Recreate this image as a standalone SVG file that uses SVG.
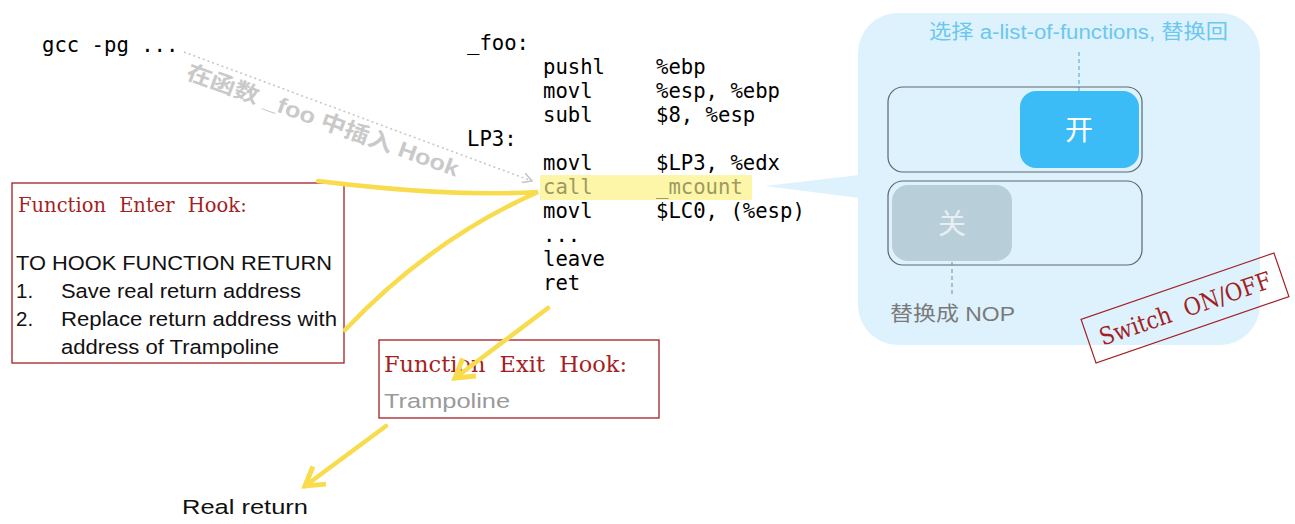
<svg xmlns="http://www.w3.org/2000/svg" width="1295" height="524" viewBox="0 0 1295 524">
<style>
.mono{font-family:"DejaVu Sans Mono","Liberation Mono",monospace;font-size:20.6px;fill:#000}
.serif{font-family:"DejaVu Serif","Liberation Serif",serif;fill:#a31f24}
.sans{font-family:"Liberation Sans",Arial,sans-serif;font-size:20.5px;fill:#111}
.cjk{font-family:"Liberation Sans","Noto Sans CJK SC",sans-serif}
.redbox{fill:none;stroke:#a31f24;stroke-width:1.3}
.yel{fill:none;stroke:#f8dc4e;stroke-width:4.5;stroke-linecap:round}
.tog{fill:none;stroke:#5b6770;stroke-width:1.2}
</style>
<defs>
<marker id="yh" markerUnits="userSpaceOnUse" markerWidth="40" markerHeight="40" viewBox="-30 -20 40 40" refX="0" refY="0" orient="auto">
<path d="M-18,-11 L0,0 L-18,11" fill="none" stroke="#f8dc4e" stroke-width="5" stroke-linejoin="miter"/>
</marker>
<marker id="gh" markerUnits="userSpaceOnUse" markerWidth="20" markerHeight="20" viewBox="-15 -10 20 20" refX="0" refY="0" orient="auto">
<path d="M-9,-5 L0,0 L-9,5" fill="none" stroke="#c4c4c4" stroke-width="1.5"/>
</marker>
</defs>

<!-- switch panel background -->
<g id="panel">
<rect x="858" y="13" width="402" height="332" rx="40" fill="#ddf2fd"/>
<polygon points="765,186 859,175 859,198" fill="#ddf2fd"/>
</g>

<g id="gcc">
<text class="mono" x="42" y="52">gcc -pg ...</text>
</g>

<g id="code">
<rect x="540" y="175" width="212" height="25" fill="#fdf6a9"/>
<text class="mono" x="467" y="50">_foo:</text>
<text class="mono" y="74"><tspan x="543">pushl</tspan><tspan x="656">%ebp</tspan></text>
<text class="mono" y="98"><tspan x="543">movl</tspan><tspan x="656">%esp, %ebp</tspan></text>
<text class="mono" y="122"><tspan x="543">subl</tspan><tspan x="656">$8, %esp</tspan></text>
<text class="mono" x="467" y="146">LP3:</text>
<text class="mono" y="170"><tspan x="543">movl</tspan><tspan x="656">$LP3, %edx</tspan></text>
<text class="mono" y="194" style="fill:#9c9a60"><tspan x="543">call</tspan><tspan x="656">_mcount</tspan></text>
<text class="mono" y="218"><tspan x="543">movl</tspan><tspan x="656">$LC0, (%esp)</tspan></text>
<text class="mono" x="543" y="242">...</text>
<text class="mono" x="543" y="266">leave</text>
<text class="mono" x="543" y="290">ret</text>
</g>

<g id="enter-hook">
<rect class="redbox" x="12" y="183" width="332" height="180"/>
<text class="serif" x="18" y="212" font-size="19.5" word-spacing="7">Function Enter Hook:</text>
<text class="sans" x="16" y="270" textLength="316" lengthAdjust="spacingAndGlyphs">TO HOOK FUNCTION RETURN</text>
<text class="sans" x="16" y="298">1.</text>
<text class="sans" x="61" y="298" textLength="240" lengthAdjust="spacingAndGlyphs">Save real return address</text>
<text class="sans" x="16" y="326">2.</text>
<text class="sans" x="61" y="326" textLength="276" lengthAdjust="spacingAndGlyphs">Replace return address with</text>
<text class="sans" x="61" y="354" textLength="218" lengthAdjust="spacingAndGlyphs">address of Trampoline</text>
</g>

<g id="exit-hook">
<rect class="redbox" x="379" y="340" width="280" height="78"/>
<text class="serif" x="384" y="372" font-size="22.5" word-spacing="7">Function Exit Hook:</text>
<text class="sans" x="384" y="408" font-size="23" style="fill:#9a9a9a" textLength="126" lengthAdjust="spacingAndGlyphs">Trampoline</text>
</g>

<g id="real-return">
<text class="sans" x="182" y="514" font-size="23" textLength="126" lengthAdjust="spacingAndGlyphs">Real return</text>
</g>

<g id="connectors">
<path d="M184,52 L532,181" fill="none" stroke="#c8c8c8" stroke-width="1.6" stroke-dasharray="2,3" marker-end="url(#gh)"/>
<path class="yel" d="M318,181 C400,191 470,196 538,192 Q430,240 345,330"/>
<path class="yel" d="M548,308 L455,378" marker-end="url(#yh)"/>
<path class="yel" d="M386,426 L305,486" marker-end="url(#yh)"/>
</g>

<g id="insert-label">
<text class="cjk" transform="translate(323,120) rotate(20)" text-anchor="middle" y="8" font-size="22" font-weight="bold" fill="#c9c9c9" textLength="288" lengthAdjust="spacingAndGlyphs">在函数 _foo 中插入 Hook</text>
</g>

<g id="switch-on">
<text class="cjk" x="929" y="39" font-size="20" fill="#6cc7ef" textLength="299" lengthAdjust="spacingAndGlyphs">选择 a-list-of-functions, 替换回</text>
<line x1="1079" y1="52" x2="1079" y2="91" stroke="#58b7e0" stroke-width="1.2" stroke-dasharray="4,3"/>
<rect class="tog" x="888" y="87" width="254" height="85" rx="15"/>
<rect x="1020" y="91" width="119" height="77" rx="16" fill="#3bbcf6"/>
<text class="cjk" x="1079" y="140" font-size="28" fill="#ffffff" text-anchor="middle">开</text>
</g>

<g id="switch-off">
<rect class="tog" x="888" y="181" width="254" height="84" rx="15"/>
<rect x="892" y="185" width="120" height="76" rx="16" fill="#b8cfda"/>
<text class="cjk" x="952" y="234" font-size="28" fill="#e8eff3" text-anchor="middle">关</text>
<line x1="952" y1="262" x2="952" y2="294" stroke="#8a9aa4" stroke-width="1.2" stroke-dasharray="4,3"/>
<text class="cjk" x="890" y="321" font-size="20" fill="#7a7a7a" textLength="125" lengthAdjust="spacingAndGlyphs">替换成 NOP</text>
</g>

<g id="stamp" transform="translate(1185,308) rotate(-19)">
<rect x="-102" y="-23" width="204" height="46" fill="none" stroke="#a31f24" stroke-width="1.2"/>
<text class="serif" x="0" y="9" font-size="24" text-anchor="middle" word-spacing="8" textLength="180" lengthAdjust="spacingAndGlyphs">Switch ON/OFF</text>
</g>
</svg>
